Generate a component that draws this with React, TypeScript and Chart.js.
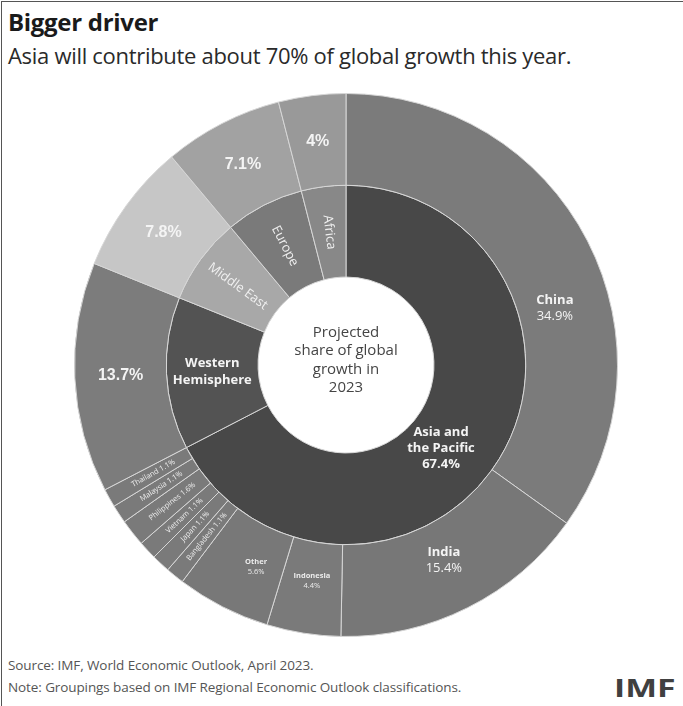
import React, { useEffect, useRef } from 'react';
import { Chart, registerables } from 'chart.js';

Chart.register(...registerables);

// ---- data ----
const outerLabels = ['China', 'India', 'Indonesia', 'Other', 'Bangladesh', 'Japan', 'Vietnam', 'Philippines', 'Malaysia', 'Thailand', 'Western Hemisphere', 'Middle East', 'Europe', 'Africa'];
const outerValues = [34.9, 15.4, 4.4, 5.6, 1.1, 1.1, 1.1, 1.6, 1.1, 1.1, 13.7, 7.8, 7.1, 4];
const outerColors = ['#7b7b7b', '#777777', '#7a7a7a', '#787878', '#7a7a7a', '#7a7a7a', '#7a7a7a', '#7a7a7a', '#7a7a7a', '#7a7a7a', '#7c7c7c', '#c6c6c6', '#a2a2a2', '#999999'];
const outerLabelKinds = ['named', 'named', 'small', 'small', 'radial', 'radial', 'radial', 'radial', 'radial', 'radial', 'pct', 'pct', 'pct', 'pct'];

const innerLabels = ['Asia and the Pacific', 'Western Hemisphere', 'Middle East', 'Europe', 'Africa'];
const innerDisplay = [['Asia and', 'the Pacific'], ['Western', 'Hemisphere'], ['Middle East'], ['Europe'], ['Africa']];
const innerValues = [67.4, 13.7, 7.8, 7.1, 4];
const innerColors = ['#484848', '#535353', '#a8a8a8', '#7a7a7a', '#888888'];
const innerLabelKinds = ['region', 'name', 'radialName', 'radialName', 'radialName'];

const centerText = ['Projected', 'share of global', 'growth in', '2023'];

// label placement tweaks (degrees shift along arc, fraction across ring)
const outerShift = [12, 0, 0, -3, 0, 0, 0, 0, 0, 0, 0, 0, 0, 0];
const outerT = [0.4, 0.42, 0.42, 0.45, 0.45, 0.45, 0.45, 0.45, 0.45, 0.45, 0.5, 0.5, 0.5, 0.5];
const innerShift = [10, 0, 0, 0, 0];
const innerT = [0.42, 0.5, 0.5, 0.5, 0.5];

const fmt = (v: number) => `${v}%`;

type Line = { text: string; font: string; color: string; lh: number };

function outerLines(i: number): Line[] {
  const k = outerLabelKinds[i];
  const name = outerLabels[i];
  const val = fmt(outerValues[i]);
  const c = '#f4f4f4';
  if (k === 'named') return [
    { text: name, font: 'bold 13px "Open Sans"', color: c, lh: 16 },
    { text: val, font: '13px "Open Sans"', color: c, lh: 16 },
  ];
  if (k === 'small') return [
    { text: name, font: 'bold 7.5px "Open Sans"', color: '#ececec', lh: 10 },
    { text: val, font: '7.5px "Open Sans"', color: '#ececec', lh: 10 },
  ];
  if (k === 'radial') return [
    { text: `${name} ${val}`, font: '7.5px "Open Sans"', color: '#ececec', lh: 9 },
  ];
  return [{ text: val, font: 'bold 16px "Liberation Sans"', color: c, lh: 18 }];
}

function innerLines(i: number): Line[] {
  const k = innerLabelKinds[i];
  const c = '#f4f4f4';
  if (k === 'region') return [
    ...innerDisplay[i].map((t) => ({ text: t, font: 'bold 13px "Open Sans"', color: c, lh: 16 })),
    { text: fmt(innerValues[i]), font: 'bold 13px "Open Sans"', color: c, lh: 16 },
  ];
  if (k === 'name') return innerDisplay[i].map((t) => ({ text: t, font: 'bold 13px "Open Sans"', color: c, lh: 17 }));
  return innerDisplay[i].map((t) => ({ text: t, font: '13px "Open Sans"', color: '#f0f0f0', lh: 16 }));
}

const labelPlugin = {
  id: 'sunburstLabels',
  afterDatasetsDraw(chart: any) {
    const ctx: CanvasRenderingContext2D = chart.ctx;
    const drawSet = (dsIndex: number, getLines: (i: number) => Line[], shifts: number[], ts: number[], kinds: string[]) => {
      const meta = chart.getDatasetMeta(dsIndex);
      meta.data.forEach((arc: any, i: number) => {
        const p = arc.getProps(['x', 'y', 'startAngle', 'endAngle', 'innerRadius', 'outerRadius'], true);
        const mid = (p.startAngle + p.endAngle) / 2 + (shifts[i] * Math.PI) / 180;
        const r = p.innerRadius + (p.outerRadius - p.innerRadius) * ts[i];
        const x = p.x + Math.cos(mid) * r;
        const y = p.y + Math.sin(mid) * r;
        const lines = getLines(i);
        const radial = kinds[i].startsWith('radial');
        ctx.save();
        ctx.translate(x, y);
        if (radial) ctx.rotate(mid + Math.PI);
        ctx.textAlign = 'center';
        ctx.textBaseline = 'middle';
        const total = lines.reduce((s, l) => s + l.lh, 0);
        let yy = -total / 2;
        lines.forEach((l) => {
          ctx.font = l.font;
          ctx.fillStyle = l.color;
          ctx.fillText(l.text, 0, yy + l.lh / 2);
          yy += l.lh;
        });
        ctx.restore();
      });
    };
    drawSet(0, outerLines, outerShift, outerT, outerLabelKinds);
    drawSet(1, innerLines, innerShift, innerT, innerLabelKinds);

    // center text
    const meta = chart.getDatasetMeta(1);
    const a = meta.data[0];
    if (a) {
      ctx.save();
      ctx.textAlign = 'center';
      ctx.textBaseline = 'middle';
      ctx.font = '15px "Open Sans"';
      ctx.fillStyle = '#454545';
      const lh = 18.5;
      const start = a.y - 5 - ((centerText.length - 1) * lh) / 2;
      centerText.forEach((t, i) => ctx.fillText(t, a.x, start + i * lh));
      ctx.restore();
    }
  },
};

export default function App() {
  const ref = useRef<HTMLCanvasElement | null>(null);
  useEffect(() => {
    if (!ref.current) return;
    const chart = new Chart(ref.current, {
      type: 'doughnut',
      data: {
        labels: outerLabels,
        datasets: [
          { data: outerValues, backgroundColor: outerColors, borderColor: '#d6d6d6', borderWidth: 1 },
          { data: innerValues, backgroundColor: innerColors, borderColor: '#d6d6d6', borderWidth: 1, labels: innerLabels } as any,
        ],
      },
      options: {
        responsive: false,
        animation: false,
        cutout: '32.4%',
        layout: { padding: 0 },
        plugins: { legend: { display: false }, tooltip: { enabled: false } },
      },
      plugins: [labelPlugin],
    });
    return () => chart.destroy();
  }, []);

  return (
    <div style={{ position: 'absolute', left: 0, top: 0, width: 683, height: 706, background: '#fff', overflow: 'hidden' }}>
      <div style={{ position: 'absolute', left: 1, top: 1, right: 0, bottom: 0, borderTop: '1.5px solid #555', borderLeft: '1.5px solid #555' }} />
      <div style={{ position: 'absolute', left: 8, top: 5, fontFamily: '"Open Sans"', fontWeight: 700, fontSize: 24, color: '#1a1a1a', letterSpacing: -0.3 }}>Bigger driver</div>
      <div style={{ position: 'absolute', left: 8, top: 40, fontFamily: '"Open Sans"', fontSize: 22, lineHeight: '30px', color: '#2a2a2a', letterSpacing: -0.3, whiteSpace: 'nowrap' }}>Asia will contribute about 70% of global growth this year.</div>
      <canvas ref={ref} width={544} height={544} style={{ position: 'absolute', left: 74, top: 93, width: 544, height: 544 }} />
      <div style={{ position: 'absolute', left: 8, top: 654, fontFamily: '"Open Sans"', fontSize: 13.5, color: '#555', lineHeight: '22px', letterSpacing: -0.1, whiteSpace: 'nowrap' }}>
        <div>Source: IMF, World Economic Outlook, April 2023.</div>
        <div>Note: Groupings based on IMF Regional Economic Outlook classifications.</div>
      </div>
      <div style={{ position: 'absolute', right: 7, top: 670, fontFamily: '"Open Sans"', fontWeight: 700, fontSize: 25, lineHeight: '34px', color: '#404040', transform: 'scaleX(1.35)', transformOrigin: 'right center' }}>IMF</div>
    </div>
  );
}
